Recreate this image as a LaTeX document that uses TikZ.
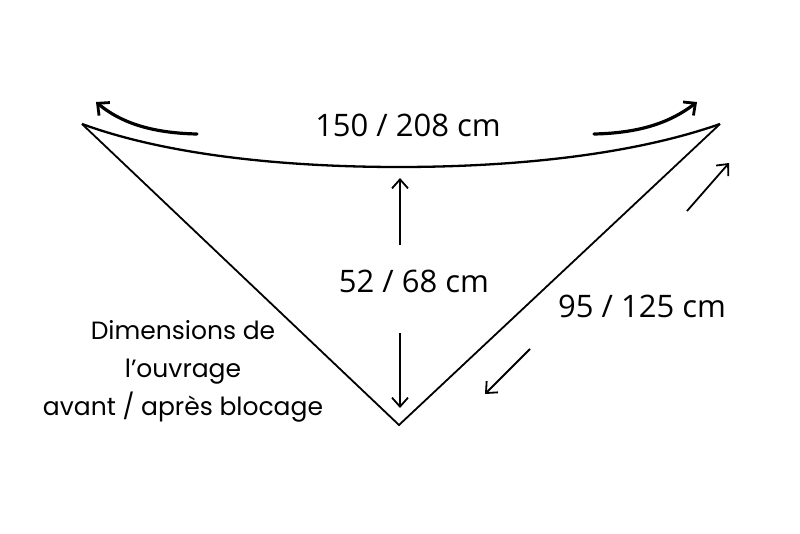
\documentclass[tikz,border=0pt]{standalone}
\usepackage{fontspec}
\setmainfont{Open Sans}
\newfontfamily\notefont{Poppins}
\usetikzlibrary{arrows.meta}

\begin{document}
\begin{tikzpicture}[x=1pt,y=-1pt,
    edge/.style={line width=1.8pt},
    arr/.style={line width=1.8pt,-{Straight Barb[length=9pt,width=16pt,line width=1.8pt]}},
    swoop/.style={line width=3.2pt,line cap=round,-{Straight Barb[length=9pt,width=17pt,line width=2.8pt]}},
    size/.style={font=\fontsize{31}{36}\selectfont},
    note/.style={font=\notefont\fontsize{25}{38}\selectfont,align=center}]
  \useasboundingbox (0,0) rectangle (800,533);

  % shawl
  \coordinate (l) at (82,124);
  \coordinate (r) at (720,124);
  \coordinate (b) at (399,425);
  \coordinate (m) at (399,167);
  \draw [edge] (l) -- (b) -- (r);
  \draw [line width=2.3pt] (l) .. controls (175,158) and (300,167) .. (m)
                               .. controls (498,167) and (623,158) .. (r);

  % width
  \coordinate (wl0) at (197,134);
  \coordinate (wl1) at (96,102);
  \coordinate (wr0) at (594,134);
  \coordinate (wr1) at (697,102);
  \draw [swoop] (wl0) .. controls (150,133) and (120,122) .. (wl1);
  \draw [swoop] (wr0) .. controls (641,133) and (671,122) .. (wr1);
  \node [size] (w) at (408,125) {150 / 208 cm};

  % depth
  \coordinate (d0) at (400,245);
  \coordinate (d1) at (400,178);
  \coordinate (d2) at (400,333);
  \coordinate (d3) at (400,408);
  \draw [arr] (d0) -- (d1);
  \draw [arr] (d2) -- (d3);
  \node [size] (h) at (414,281) {52 / 68 cm};

  % side
  \coordinate (s0) at (687,211);
  \coordinate (s1) at (729,163);
  \coordinate (s2) at (530,349);
  \coordinate (s3) at (485,394);
  \draw [arr] (s0) -- (s1);
  \draw [arr] (s2) -- (s3);
  \node [size] (s) at (642,306) {95 / 125 cm};

  \node [note] (n) at (183,371) {Dimensions de\\l’ouvrage\\avant / après blocage};
\end{tikzpicture}
\end{document}
